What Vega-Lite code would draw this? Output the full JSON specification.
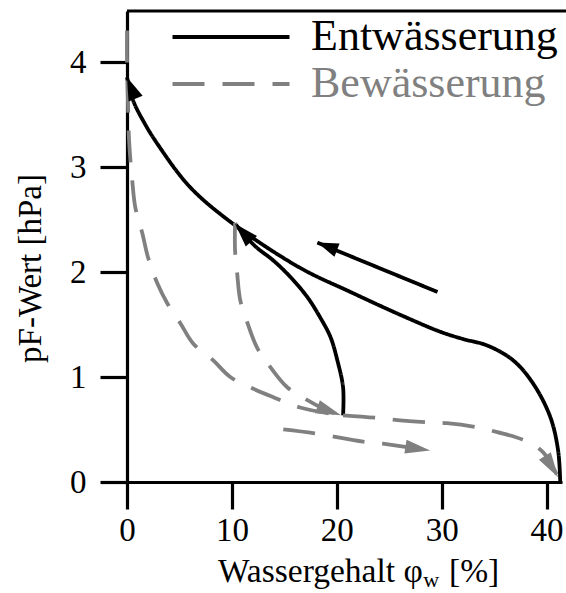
{
  "$schema": "https://vega.github.io/schema/vega-lite/v6.json",
  "autosize": "none",
  "width": 435,
  "height": 471,
  "padding": {"left": 127, "top": 11, "right": 4, "bottom": 111},
  "background": "white",
  "config": {
    "view": {"stroke": null},
    "font": "Liberation Serif",
    "axis": {"grid": false}
  },
  "datasets": {
    "curves": [
      {"curve": "trocknung_haupt", "series": "Entwässerung", "i": 0, "x": 0.0, "y": 3.854},
      {"curve": "trocknung_haupt", "series": "Entwässerung", "i": 1, "x": 0.6, "y": 3.63},
      {"curve": "trocknung_haupt", "series": "Entwässerung", "i": 2, "x": 1.6, "y": 3.43},
      {"curve": "trocknung_haupt", "series": "Entwässerung", "i": 3, "x": 2.9, "y": 3.22},
      {"curve": "trocknung_haupt", "series": "Entwässerung", "i": 4, "x": 6.0, "y": 2.81},
      {"curve": "trocknung_haupt", "series": "Entwässerung", "i": 5, "x": 10.1, "y": 2.46},
      {"curve": "trocknung_haupt", "series": "Entwässerung", "i": 6, "x": 16.5, "y": 2.04},
      {"curve": "trocknung_haupt", "series": "Entwässerung", "i": 7, "x": 21.3, "y": 1.81},
      {"curve": "trocknung_haupt", "series": "Entwässerung", "i": 8, "x": 26.1, "y": 1.59},
      {"curve": "trocknung_haupt", "series": "Entwässerung", "i": 9, "x": 29.9, "y": 1.43},
      {"curve": "trocknung_haupt", "series": "Entwässerung", "i": 10, "x": 32.1, "y": 1.36},
      {"curve": "trocknung_haupt", "series": "Entwässerung", "i": 11, "x": 34.35, "y": 1.30},
      {"curve": "trocknung_haupt", "series": "Entwässerung", "i": 12, "x": 36.8, "y": 1.16},
      {"curve": "trocknung_haupt", "series": "Entwässerung", "i": 13, "x": 38.7, "y": 0.94},
      {"curve": "trocknung_haupt", "series": "Entwässerung", "i": 14, "x": 40.35, "y": 0.62},
      {"curve": "trocknung_haupt", "series": "Entwässerung", "i": 15, "x": 41.1, "y": 0.30},
      {"curve": "trocknung_haupt", "series": "Entwässerung", "i": 16, "x": 41.3, "y": 0.0},

      {"curve": "trocknung_rast", "series": "Entwässerung", "i": 0, "x": 20.6, "y": 0.635},
      {"curve": "trocknung_rast", "series": "Entwässerung", "i": 1, "x": 20.6, "y": 0.90},
      {"curve": "trocknung_rast", "series": "Entwässerung", "i": 2, "x": 20.05, "y": 1.16},
      {"curve": "trocknung_rast", "series": "Entwässerung", "i": 3, "x": 19.4, "y": 1.38},
      {"curve": "trocknung_rast", "series": "Entwässerung", "i": 4, "x": 18.4, "y": 1.57},
      {"curve": "trocknung_rast", "series": "Entwässerung", "i": 5, "x": 17.2, "y": 1.76},
      {"curve": "trocknung_rast", "series": "Entwässerung", "i": 6, "x": 15.6, "y": 1.95},
      {"curve": "trocknung_rast", "series": "Entwässerung", "i": 7, "x": 13.95, "y": 2.11},
      {"curve": "trocknung_rast", "series": "Entwässerung", "i": 8, "x": 12.4, "y": 2.23},
      {"curve": "trocknung_rast", "series": "Entwässerung", "i": 9, "x": 11.5, "y": 2.32},
      {"curve": "trocknung_rast", "series": "Entwässerung", "i": 10, "x": 10.3, "y": 2.46},

      {"curve": "trocknung_pfeil", "series": "Entwässerung", "i": 0, "x": 29.6, "y": 1.81},
      {"curve": "trocknung_pfeil", "series": "Entwässerung", "i": 1, "x": 18.15, "y": 2.28},

      {"curve": "befeuchtung_haupt", "series": "Bewässerung", "i": 0, "x": 0.0, "y": 4.30},
      {"curve": "befeuchtung_haupt", "series": "Bewässerung", "i": 1, "x": 0.0, "y": 4.0},
      {"curve": "befeuchtung_haupt", "series": "Bewässerung", "i": 2, "x": 0.1, "y": 3.6},
      {"curve": "befeuchtung_haupt", "series": "Bewässerung", "i": 3, "x": 0.2, "y": 3.25},
      {"curve": "befeuchtung_haupt", "series": "Bewässerung", "i": 4, "x": 0.5, "y": 2.87},
      {"curve": "befeuchtung_haupt", "series": "Bewässerung", "i": 5, "x": 0.8, "y": 2.61},
      {"curve": "befeuchtung_haupt", "series": "Bewässerung", "i": 6, "x": 1.46, "y": 2.37},
      {"curve": "befeuchtung_haupt", "series": "Bewässerung", "i": 7, "x": 2.0, "y": 2.14},
      {"curve": "befeuchtung_haupt", "series": "Bewässerung", "i": 8, "x": 2.9, "y": 1.89},
      {"curve": "befeuchtung_haupt", "series": "Bewässerung", "i": 9, "x": 3.85, "y": 1.70},
      {"curve": "befeuchtung_haupt", "series": "Bewässerung", "i": 10, "x": 5.1, "y": 1.51},
      {"curve": "befeuchtung_haupt", "series": "Bewässerung", "i": 11, "x": 6.3, "y": 1.32},
      {"curve": "befeuchtung_haupt", "series": "Bewässerung", "i": 12, "x": 8.2, "y": 1.16},
      {"curve": "befeuchtung_haupt", "series": "Bewässerung", "i": 13, "x": 9.85, "y": 1.00},
      {"curve": "befeuchtung_haupt", "series": "Bewässerung", "i": 14, "x": 12.0, "y": 0.89},
      {"curve": "befeuchtung_haupt", "series": "Bewässerung", "i": 15, "x": 13.9, "y": 0.81},
      {"curve": "befeuchtung_haupt", "series": "Bewässerung", "i": 16, "x": 16.5, "y": 0.71},
      {"curve": "befeuchtung_haupt", "series": "Bewässerung", "i": 17, "x": 20.4, "y": 0.635},

      {"curve": "befeuchtung_rast", "series": "Bewässerung", "i": 0, "x": 10.3, "y": 2.47},
      {"curve": "befeuchtung_rast", "series": "Bewässerung", "i": 1, "x": 10.3, "y": 2.21},
      {"curve": "befeuchtung_rast", "series": "Bewässerung", "i": 2, "x": 10.5, "y": 1.99},
      {"curve": "befeuchtung_rast", "series": "Bewässerung", "i": 3, "x": 10.8, "y": 1.73},
      {"curve": "befeuchtung_rast", "series": "Bewässerung", "i": 4, "x": 11.5, "y": 1.51},
      {"curve": "befeuchtung_rast", "series": "Bewässerung", "i": 5, "x": 12.4, "y": 1.28},
      {"curve": "befeuchtung_rast", "series": "Bewässerung", "i": 6, "x": 13.7, "y": 1.09},
      {"curve": "befeuchtung_rast", "series": "Bewässerung", "i": 7, "x": 15.3, "y": 0.90},
      {"curve": "befeuchtung_rast", "series": "Bewässerung", "i": 8, "x": 17.2, "y": 0.78},
      {"curve": "befeuchtung_rast", "series": "Bewässerung", "i": 9, "x": 19.1, "y": 0.68},
      {"curve": "befeuchtung_rast", "series": "Bewässerung", "i": 10, "x": 20.4, "y": 0.635},

      {"curve": "befeuchtung_sat", "series": "Bewässerung", "i": 0, "x": 20.6, "y": 0.635},
      {"curve": "befeuchtung_sat", "series": "Bewässerung", "i": 1, "x": 23.9, "y": 0.61},
      {"curve": "befeuchtung_sat", "series": "Bewässerung", "i": 2, "x": 25.8, "y": 0.59},
      {"curve": "befeuchtung_sat", "series": "Bewässerung", "i": 3, "x": 28.6, "y": 0.57},
      {"curve": "befeuchtung_sat", "series": "Bewässerung", "i": 4, "x": 30.5, "y": 0.56},
      {"curve": "befeuchtung_sat", "series": "Bewässerung", "i": 5, "x": 33.4, "y": 0.52},
      {"curve": "befeuchtung_sat", "series": "Bewässerung", "i": 6, "x": 35.3, "y": 0.475},
      {"curve": "befeuchtung_sat", "series": "Bewässerung", "i": 7, "x": 37.8, "y": 0.40},
      {"curve": "befeuchtung_sat", "series": "Bewässerung", "i": 8, "x": 39.7, "y": 0.28},
      {"curve": "befeuchtung_sat", "series": "Bewässerung", "i": 9, "x": 41.1, "y": 0.045},

      {"curve": "befeuchtung_pfeil", "series": "Bewässerung", "i": 0, "x": 14.9, "y": 0.502},
      {"curve": "befeuchtung_pfeil", "series": "Bewässerung", "i": 1, "x": 17.9, "y": 0.464},
      {"curve": "befeuchtung_pfeil", "series": "Bewässerung", "i": 2, "x": 22.5, "y": 0.385},
      {"curve": "befeuchtung_pfeil", "series": "Bewässerung", "i": 3, "x": 24.4, "y": 0.366},
      {"curve": "befeuchtung_pfeil", "series": "Bewässerung", "i": 4, "x": 28.9, "y": 0.30}
    ]
  },
  "layer": [
    {
      "description": "Rahmenlinie oben",
      "data": {"values": [{}]},
      "mark": {"type": "rule", "color": "black", "strokeWidth": 3.2},
      "encoding": {
        "x": {"datum": 0, "type": "quantitative", "scale": {"domain": [0, 41.47], "nice": false}},
        "x2": {"datum": 41.85},
        "y": {"datum": 4.486, "type": "quantitative", "scale": {"domain": [0, 4.486], "nice": false}}
      }
    },
    {
      "data": {"name": "curves"},
      "mark": {"type": "line", "strokeWidth": 3.8, "interpolate": "catmull-rom", "strokeCap": "butt"},
      "encoding": {
        "x": {
          "field": "x", "type": "quantitative",
          "scale": {"domain": [0, 41.47], "nice": false},
          "axis": {
            "values": [0, 10, 20, 30, 40], "title": null, "format": "d",
            "domainColor": "black", "domainWidth": 3.2, "tickColor": "black", "tickWidth": 3.2, "tickSize": 27,
            "labelFont": "Liberation Serif", "labelFontSize": 33, "labelColor": "black", "labelPadding": 5,
            "labelFlush": false, "labelOverlap": false
          }
        },
        "y": {
          "field": "y", "type": "quantitative",
          "scale": {"domain": [0, 4.486], "nice": false},
          "axis": {
            "values": [0, 1, 2, 3, 4], "title": "pF-Wert [hPa]", "format": "d",
            "domainColor": "black", "domainWidth": 3.2, "tickColor": "black", "tickWidth": 3.2, "tickSize": 27,
            "labelFont": "Liberation Serif", "labelFontSize": 33, "labelColor": "black", "labelPadding": 14,
            "labelFlush": false, "labelOverlap": false,
            "titleFont": "Liberation Serif", "titleFontSize": 33, "titleFontWeight": "normal", "titleColor": "black",
            "titlePadding": 22, "titleY": 257
          }
        },
        "detail": {"field": "curve"},
        "order": {"field": "i", "type": "quantitative"},
        "color": {
          "field": "series", "type": "nominal",
          "scale": {"domain": ["Entwässerung", "Bewässerung"], "range": ["#000000", "#808080"]},
          "legend": {
            "title": null, "orient": "top-right", "offset": 4, "padding": 0,
            "symbolType": "M-1,0H5", "symbolSize": 1521, "symbolStrokeWidth": 3.8, "symbolFillColor": "transparent",
            "labelFont": "Liberation Serif", "labelFontSize": 44, "labelOffset": 97, "labelLimit": 0,
            "rowPadding": 3,
            "encode": {"labels": {"update": {"fill": {"signal": "datum.label == 'Bewässerung' ? '#808080' : '#000000'"}}}}
          }
        },
        "strokeDash": {
          "field": "series", "type": "nominal",
          "scale": {"domain": ["Entwässerung", "Bewässerung"], "range": [[1, 0], [32, 18]]},
          "legend": null
        }
      }
    },
    {
      "description": "Pfeilspitze Hauptentwässerung",
      "data": {"values": [{"x": 0.0, "y": 3.854}]},
      "mark": {"type": "point", "shape": "M0,0L-0.33,1L0.33,1Z", "filled": true, "opacity": 1, "strokeWidth": 0, "color": "#000000", "size": 2116, "angle": -22},
      "encoding": {"x": {"field": "x", "type": "quantitative"}, "y": {"field": "y", "type": "quantitative"}}
    },
    {
      "description": "Pfeilspitze Zwischenentwässerung",
      "data": {"values": [{"x": 10.3, "y": 2.46}]},
      "mark": {"type": "point", "shape": "M0,0L-0.32,1L0.32,1Z", "filled": true, "opacity": 1, "strokeWidth": 0, "color": "#000000", "size": 2304, "angle": -43},
      "encoding": {"x": {"field": "x", "type": "quantitative"}, "y": {"field": "y", "type": "quantitative"}}
    },
    {
      "description": "Pfeilspitze Richtungspfeil Entwässerung",
      "data": {"values": [{"x": 18.15, "y": 2.28}]},
      "mark": {"type": "point", "shape": "M0,0L-0.34,1L0.34,1Z", "filled": true, "opacity": 1, "strokeWidth": 0, "color": "#000000", "size": 1764, "angle": -69},
      "encoding": {"x": {"field": "x", "type": "quantitative"}, "y": {"field": "y", "type": "quantitative"}}
    },
    {
      "description": "Pfeilspitze Bewässerung Mitte",
      "data": {"values": [{"x": 20.4, "y": 0.635}]},
      "mark": {"type": "point", "shape": "M0,0L-0.28,1L0.28,1Z", "filled": true, "opacity": 1, "strokeWidth": 0, "color": "#808080", "size": 2500, "angle": 110},
      "encoding": {"x": {"field": "x", "type": "quantitative"}, "y": {"field": "y", "type": "quantitative"}}
    },
    {
      "description": "Pfeilspitze Richtungspfeil Bewässerung",
      "data": {"values": [{"x": 28.9, "y": 0.30}]},
      "mark": {"type": "point", "shape": "M0,0L-0.28,1L0.28,1Z", "filled": true, "opacity": 1, "strokeWidth": 0, "color": "#808080", "size": 2500, "angle": 99},
      "encoding": {"x": {"field": "x", "type": "quantitative"}, "y": {"field": "y", "type": "quantitative"}}
    },
    {
      "description": "Pfeilspitze Bewässerung Sättigung",
      "data": {"values": [{"x": 41.1, "y": 0.045}]},
      "mark": {"type": "point", "shape": "M0,0L-0.28,1L0.28,1Z", "filled": true, "opacity": 1, "strokeWidth": 0, "color": "#808080", "size": 2500, "angle": 148},
      "encoding": {"x": {"field": "x", "type": "quantitative"}, "y": {"field": "y", "type": "quantitative"}}
    },
    {
      "description": "x-Achsentitel",
      "data": {"values": [{}]},
      "mark": {"type": "text", "text": "Wassergehalt φ", "align": "right", "baseline": "alphabetic", "font": "Liberation Serif", "fontSize": 33.5, "color": "#000000"},
      "encoding": {"x": {"datum": 28.2, "type": "quantitative"}, "y": {"datum": -0.95, "type": "quantitative"}}
    },
    {
      "data": {"values": [{}]},
      "mark": {"type": "text", "text": "w", "align": "left", "baseline": "alphabetic", "font": "Liberation Serif", "fontSize": 22, "color": "#000000"},
      "encoding": {"x": {"datum": 28.25, "type": "quantitative"}, "y": {"datum": -1.0, "type": "quantitative"}}
    },
    {
      "data": {"values": [{}]},
      "mark": {"type": "text", "text": "[%]", "align": "left", "baseline": "alphabetic", "font": "Liberation Serif", "fontSize": 33.5, "color": "#000000"},
      "encoding": {"x": {"datum": 30.7, "type": "quantitative"}, "y": {"datum": -0.95, "type": "quantitative"}}
    }
  ]
}
